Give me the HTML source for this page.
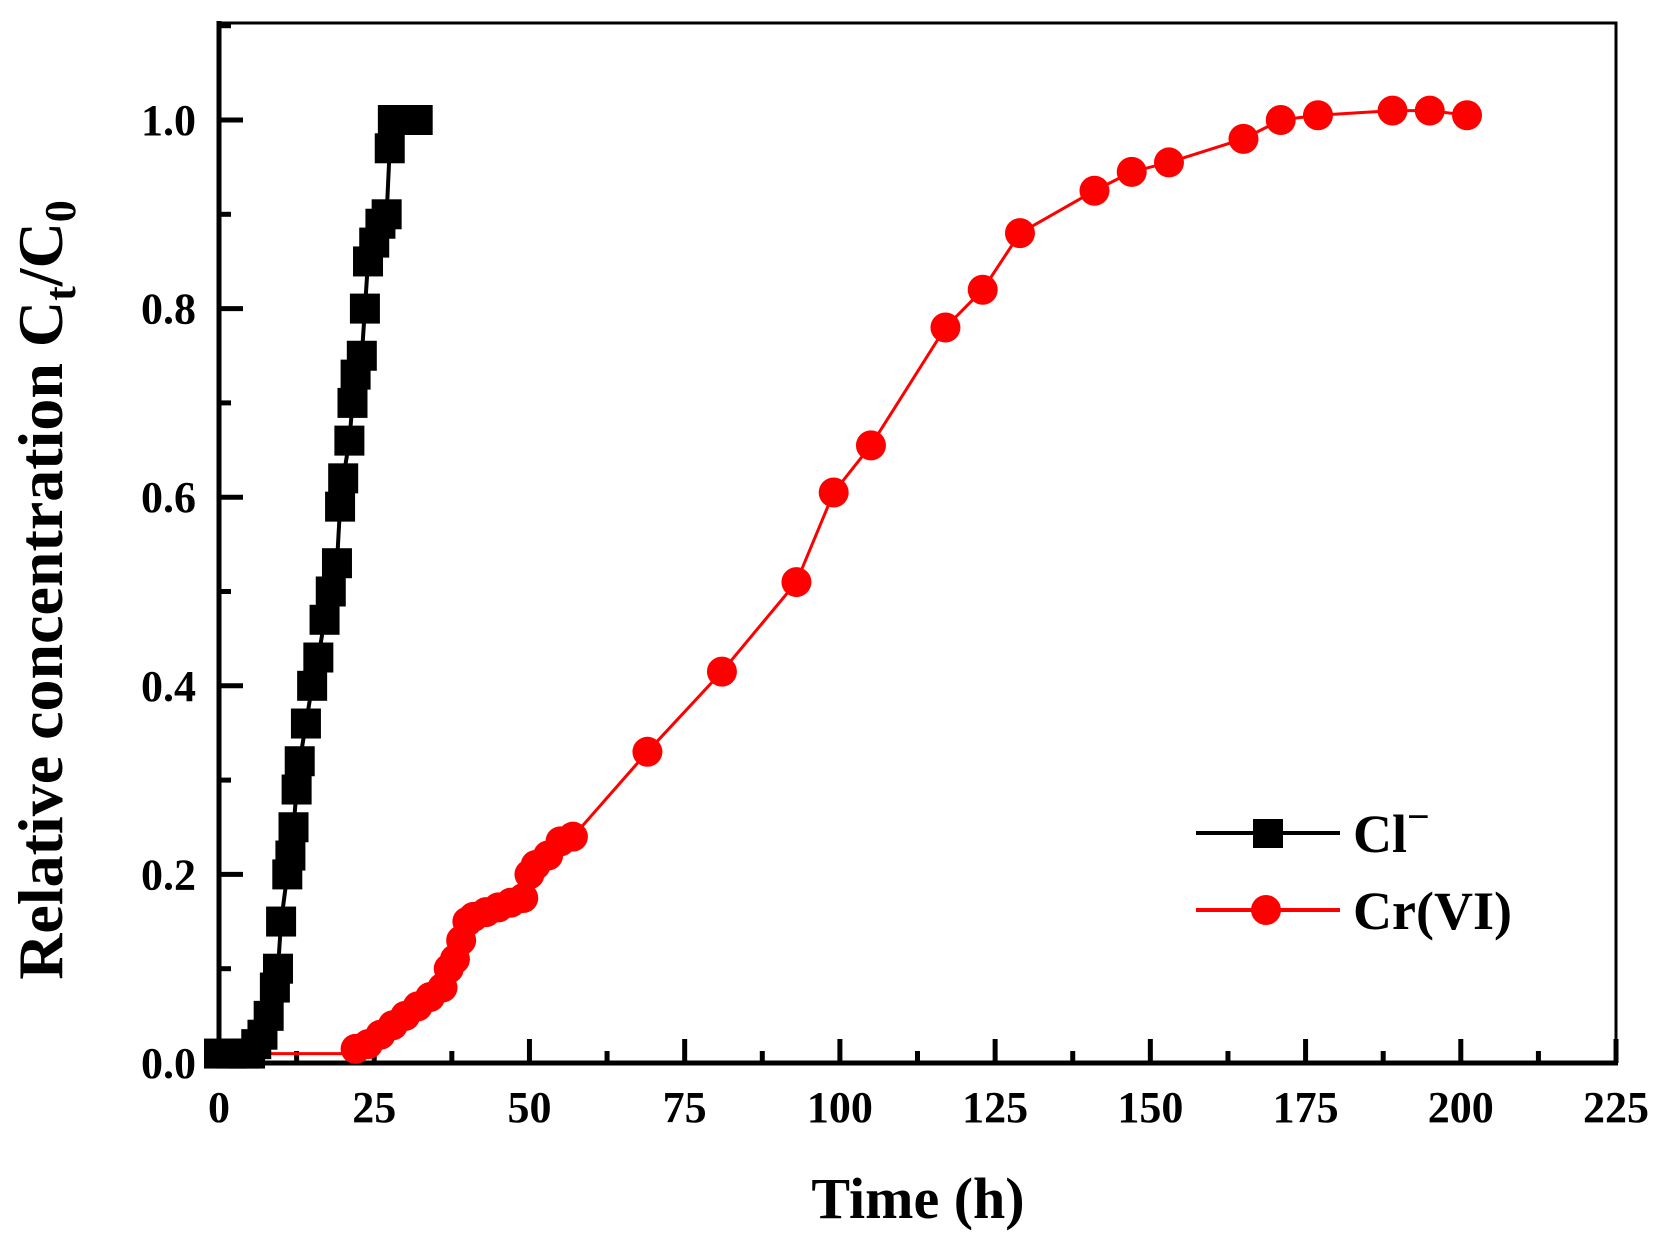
<!DOCTYPE html>
<html><head><meta charset="utf-8"><style>
html,body{margin:0;padding:0;background:#fff;}
svg{display:block;}
text{font-family:"Liberation Serif",serif;font-weight:bold;fill:#000;}
</style></head><body>
<svg width="1664" height="1244" viewBox="0 0 1664 1244" xmlns="http://www.w3.org/2000/svg">
<rect width="1664" height="1244" fill="#fff"/>
<g id="axes"></g>
<g id="data"></g>
<!-- legend -->
<line x1="1196" y1="833" x2="1340" y2="833" stroke="#000" stroke-width="4"/>
<rect x="1253" y="819" width="30" height="29" fill="#000"/>
<text x="1353" y="852" font-size="54">Cl<tspan font-size="40" dy="-22">−</tspan></text>
<line x1="1196" y1="910" x2="1340" y2="910" stroke="#f00" stroke-width="4"/>
<circle cx="1266" cy="910" r="15" fill="#f00"/>
<text x="1353" y="929" font-size="54">Cr(VI)</text>
<!-- titles -->
<text x="918" y="1218" font-size="58" text-anchor="middle">Time (h)</text>
<text transform="translate(62,590) rotate(-90)" font-size="64" text-anchor="middle">Relative concentration C<tspan font-size="44" dy="13">t</tspan><tspan dy="-13">/C</tspan><tspan font-size="44" dy="13">0</tspan></text>
</svg>
<script>
const ns="http://www.w3.org/2000/svg";
const X=v=>219+v*6.209, Y=v=>1063-v*943;
function el(p,t,a,txt){const e=document.createElementNS(ns,t);for(const k in a)e.setAttribute(k,a[k]);if(txt!=null)e.textContent=txt;p.appendChild(e);return e;}
const ax=document.getElementById('axes');
el(ax,'rect',{x:219,y:23,width:1397,height:1040,fill:'none',stroke:'#000','stroke-width':3});
el(ax,'line',{x1:219,y1:21,x2:219,y2:1065,stroke:'#000','stroke-width':5});
el(ax,'line',{x1:217,y1:1063,x2:1618,y2:1063,stroke:'#000','stroke-width':5});
for(let i=0;i<=18;i++){const v=i*12.5,x=X(v),maj=i%2==0;
 el(ax,'line',{x1:x,y1:1063,x2:x,y2:1063-(maj?24:12),stroke:'#000','stroke-width':5});
 if(maj)el(ax,'text',{x:x,y:1122,'font-size':44,'text-anchor':'middle'},String(v));}
for(let i=0;i<=11;i++){const v=i*0.1,y=Y(v),maj=i%2==0;
 el(ax,'line',{x1:219,y1:y,x2:219+(maj?24:12),y2:y,stroke:'#000','stroke-width':5});
 if(maj)el(ax,'text',{x:196,y:y+15,'font-size':44,'text-anchor':'end'},v.toFixed(1));}
const cl=[[0,0.01],[2,0.01],[4,0.01],[5,0.01],[6,0.02],[7,0.03],[8,0.05],[9,0.08],[9.5,0.1],[10,0.15],[11,0.2],[11.5,0.22],[12,0.25],[12.5,0.29],[13,0.32],[14,0.36],[15,0.4],[16,0.43],[17,0.47],[18,0.5],[19,0.53],[19.5,0.59],[20,0.62],[21,0.66],[21.5,0.7],[22,0.73],[23,0.75],[23.5,0.8],[24,0.85],[25,0.87],[26,0.89],[27,0.9],[27.5,0.97],[28,1.0],[30,1.0],[32,1.0]];
const cr=[[22,0.015],[24,0.02],[26,0.03],[28,0.04],[30,0.05],[32,0.06],[34,0.07],[36,0.08],[37,0.1],[38,0.11],[39,0.13],[40,0.15],[41,0.155],[43,0.16],[45,0.165],[47,0.17],[49,0.175],[50,0.2],[51,0.21],[53,0.22],[55,0.235],[57,0.24],[69,0.33],[81,0.415],[93,0.51],[99,0.605],[105,0.655],[117,0.78],[123,0.82],[129,0.88],[141,0.925],[147,0.945],[153,0.955],[165,0.98],[171,1.0],[177,1.005],[189,1.01],[195,1.01],[201,1.005]];
const d=document.getElementById('data');
const crl=[[0,0.01],[20,0.01]].concat(cr);
el(d,'polyline',{points:crl.map(p=>X(p[0])+','+Y(p[1])).join(' '),fill:'none',stroke:'#f00','stroke-width':3});
cr.forEach(p=>el(d,'circle',{cx:X(p[0]),cy:Y(p[1]),r:15,fill:'#f00'}));
el(d,'polyline',{points:cl.map(p=>X(p[0])+','+Y(p[1])).join(' '),fill:'none',stroke:'#000','stroke-width':4});
cl.forEach(p=>el(d,'rect',{x:X(p[0])-15,y:Y(p[1])-15,width:30,height:30,fill:'#000'}));
</script>
</body></html>
